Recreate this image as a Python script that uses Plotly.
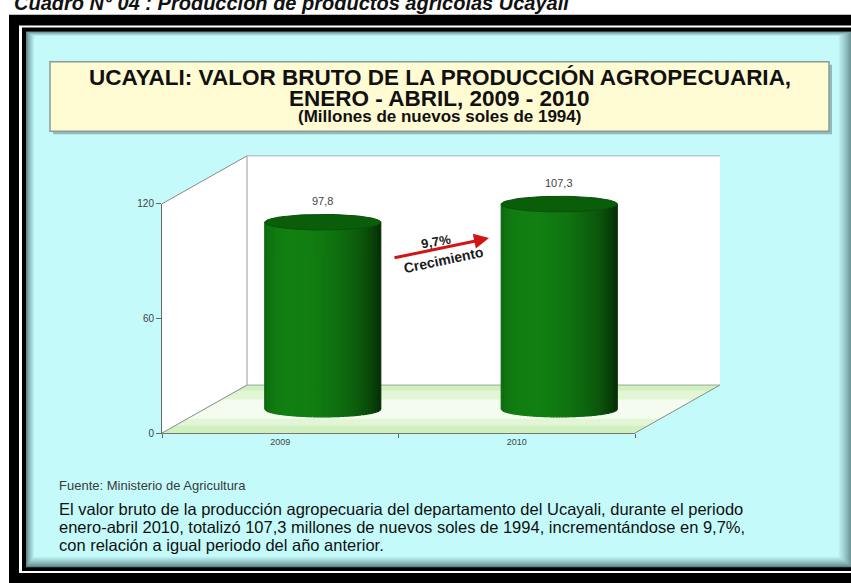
import numpy as np
import plotly.graph_objects as go

# ---------------- data ----------------
categories = ["2009", "2010"]
values = [97.8, 107.3]
y_tick_vals = [0, 60, 120]
caption = "Cuadro N° 04 : Producción de productos agrícolas Ucayali"
title_line1 = "UCAYALI: VALOR BRUTO DE LA PRODUCCIÓN AGROPECUARIA,"
title_line2 = "ENERO - ABRIL, 2009 - 2010"
title_line3 = "(Millones de nuevos soles de 1994)"
source_text = "Fuente: Ministerio de Agricultura"
body_lines = [
    "El valor bruto de la producción agropecuaria del departamento del Ucayali, durante el periodo",
    "enero-abril 2010, totalizó 107,3 millones de nuevos soles de 1994, incrementándose en 9,7%,",
    "con relación a igual periodo del año anterior.",
]
growth_label = "Crecimiento"

# ---------------- layout helpers ----------------
W, H = 851, 583
FONT = "Liberation Sans, Arial, sans-serif"


def X(p):
    return p / W


def Y(p):
    return 1 - p / H


# front plane (pixels)
FX0, FX1 = 162, 635
FY0, FY1 = 436, 202
YMAX = 120
PPU = (FY0 - FY1) / YMAX
DX, DY = 85, -49  # depth offset to back wall
MX, MY = DX / 2, DY / 2  # mid-depth plane where cylinders stand
Y2MIN = -12

shapes = []


def rect(x0, y0, x1, y1, fill, line=None, lw=0, layer="below"):
    shapes.append(dict(type="rect", xref="paper", yref="paper",
                       x0=X(x0), x1=X(x1), y0=Y(y1), y1=Y(y0),
                       fillcolor=fill, line=dict(color=line or fill, width=lw),
                       layer=layer))


def poly(pts, fill, line=None, lw=0, layer="below"):
    d = "M " + " L ".join(f"{X(a):.5f},{Y(b):.5f}" for a, b in pts) + " Z"
    shapes.append(dict(type="path", xref="paper", yref="paper", path=d,
                       fillcolor=fill, line=dict(color=line or fill, width=lw),
                       layer=layer))


def seg(p0, p1, color="#8a8a8a", lw=1):
    shapes.append(dict(type="line", xref="paper", yref="paper",
                       x0=X(p0[0]), y0=Y(p0[1]), x1=X(p1[0]), y1=Y(p1[1]),
                       line=dict(color=color, width=lw), layer="below"))


# frame
rect(9, 9, 870, 600, "#000000")
rect(19, 20, 870, 579, "#ffffff")
rect(22, 22, 870, 577, "#000000")
# panel with soft dark edges
c0 = np.array([70, 105, 108])
c1 = np.array([196, 250, 250])
N = 10
for k in range(N):
    t = (k + 1) / N
    c = c0 + (c1 - c0) * (t ** 0.7)
    rect(26 + k * 0.9, 26 + k * 0.5, 853 - k * 1.6, 573 - k * 1.2,
         "rgb(%d,%d,%d)" % tuple(c.astype(int)))

# title box
rect(53, 60, 832, 131, "rgba(90,110,110,0.45)")
rect(50, 57, 829, 128, "#FFFBD2", line="#8e9a96", lw=1.5)

# 3D frame: left wall, back wall, floor
poly([(FX0, FY1), (FX0 + DX, FY1 + DY), (FX0 + DX, FY0 + DY), (FX0, FY0)], "#ffffff")
rect(FX0 + DX, FY1 + DY, FX1 + DX, FY0 + DY, "#ffffff")
floor = [(FX0, FY0), (FX0 + DX, FY0 + DY), (FX1 + DX, FY0 + DY), (FX1, FY0)]
poly(floor, "#d0f0bf")
for f0, f1, col in [(0.12, 0.85, "#e2f6d5"), (0.3, 0.7, "#f3fcee")]:
    pts = [(FX0 + DX * (1 - f0), FY0 + DY * (1 - f0)), (FX1 + DX * (1 - f0), FY0 + DY * (1 - f0)),
           (FX1 + DX * (1 - f1), FY0 + DY * (1 - f1)), (FX0 + DX * (1 - f1), FY0 + DY * (1 - f1))]
    poly(pts, col)
seg((FX0, FY1), (FX0 + DX, FY1 + DY))
seg((FX0, FY0), (FX0 + DX, FY0 + DY))
seg((FX1, FY0), (FX1 + DX, FY0 + DY))
seg((FX0 + DX, FY1 + DY), (FX0 + DX, FY0 + DY), "#9a9a9a")
seg((FX0 + DX, FY1 + DY), (FX1 + DX, FY1 + DY), "#a8b0b0")
seg((FX0 + DX, FY0 + DY), (FX1 + DX, FY0 + DY), "#9aa89a")

fig = go.Figure()

# invisible trace to register category axis (front plane)
fig.add_trace(go.Scatter(x=categories, y=[0, 0], mode="markers",
                         marker=dict(opacity=0), hoverinfo="skip",
                         showlegend=False, xaxis="x", yaxis="y"))

# cylinders on the mid-depth plane (x2/y2)
A = 58 / ((FX1 - FX0) / 2)   # radius in category units
B = 8 / PPU                  # ellipse half height in value units
NS = 40
edges = np.linspace(-1, 1, NS + 1)
for j in range(NS):
    n0, n1 = edges[j], edges[j + 1]
    nm = (n0 + n1) / 2
    th = np.arcsin(nm)
    inten = 0.52 + 0.48 * np.cos(th + 0.5)
    base = np.array([18, 128, 18])
    col = "rgb(%d,%d,%d)" % tuple((base * inten).astype(int))
    xs, ys = [], []
    for i, v in enumerate(values):
        sub = np.linspace(n0, n1, 4)
        bx = [i + s * A for s in sub]
        by = [-B * np.sqrt(max(0.0, 1 - s * s)) for s in sub]
        xs += [bx[0], bx[0]] + [bx[-1], bx[-1]] + bx[::-1] + [None]
        ys += [by[0], v, v, by[-1]] + by[::-1] + [None]
    fig.add_trace(go.Scatter(x=xs, y=ys, mode="lines", fill="toself",
                             fillcolor=col, line=dict(width=1.2, color=col),
                             hoverinfo="skip", showlegend=False,
                             xaxis="x2", yaxis="y2"))

# top caps
tt = np.linspace(0, 2 * np.pi, 80)
cx, cy = [], []
for i, v in enumerate(values):
    cx += list(i + A * np.cos(tt)) + [None]
    cy += list(v + B * np.sin(tt)) + [None]
fig.add_trace(go.Scatter(x=cx, y=cy, mode="lines", fill="toself",
                         fillcolor="#0a5e0a", line=dict(width=1, color="#095209"),
                         hoverinfo="skip", showlegend=False,
                         xaxis="x2", yaxis="y2"))

annotations = []
# value labels
for i, v in enumerate(values):
    annotations.append(dict(x=i, y=v + B, xref="x2", yref="y2", xanchor="center",
                            yanchor="bottom", yshift=5, showarrow=False,
                            text=f"{v:.1f}".replace(".", ","),
                            font=dict(family=FONT, size=11, color="#444444")))

# growth arrow and labels
growth = (values[1] / values[0] - 1) * 100
annotations.append(dict(x=X(489), y=Y(237), xref="paper", yref="paper",
                        ax=-96, ay=20, showarrow=True, arrowhead=2, arrowsize=1,
                        arrowwidth=3, arrowcolor="#d41414", text=""))
annotations.append(dict(x=X(436), y=Y(240), xref="paper", yref="paper", showarrow=False,
                        xanchor="center", yanchor="middle",
                        text="<b>" + f"{growth:.1f}".replace(".", ",") + "%</b>", textangle=-10,
                        font=dict(family=FONT, size=13, color="#1a1a1a")))
annotations.append(dict(x=X(443), y=Y(259), xref="paper", yref="paper", showarrow=False,
                        xanchor="center", yanchor="middle",
                        text="<b>" + growth_label + "</b>", textangle=-12,
                        font=dict(family=FONT, size=14, color="#1a1a1a")))

# caption (cut at the top)
annotations.append(dict(x=X(12), y=Y(-3), xref="paper", yref="paper", xanchor="left",
                        yanchor="middle", showarrow=False,
                        text="<b><i>" + caption + "</i></b>",
                        font=dict(family=FONT, size=20, color="#111111")))

# title lines
for txt, yy, sz in [(title_line1, 73, 22.5), (title_line2, 94, 22.5), (title_line3, 112.5, 17)]:
    annotations.append(dict(x=X(440), y=Y(yy), xref="paper", yref="paper", showarrow=False,
                            xanchor="center", yanchor="middle",
                            text="<b>" + txt + "</b>",
                            font=dict(family=FONT, size=sz, color="#111111")))

# footer
annotations.append(dict(x=X(57), y=Y(490), xref="paper", yref="paper", xanchor="left",
                        yanchor="middle", showarrow=False, text=source_text,
                        font=dict(family=FONT, size=13, color="#3a3a3a")))
for k, line in enumerate(body_lines):
    annotations.append(dict(x=X(57), y=Y(514 + 18 * k), xref="paper", yref="paper",
                            xanchor="left", yanchor="middle", showarrow=False, text=line,
                            font=dict(family=FONT, size=16.5, color="#111111")))

fig.update_layout(
    width=W, height=H,
    margin=dict(l=0, r=0, t=0, b=0),
    paper_bgcolor="#ffffff",
    plot_bgcolor="rgba(0,0,0,0)",
    showlegend=False,
    shapes=shapes,
    annotations=annotations,
    xaxis=dict(domain=[X(FX0), X(FX1)], type="category", range=[-0.5, 1.5],
               anchor="y", tickson="boundaries", ticks="outside", ticklen=4,
               tickcolor="#666666", showline=True, linecolor="#777777", linewidth=1,
               showgrid=False, zeroline=False, fixedrange=True,
               tickfont=dict(family=FONT, size=9, color="#444444")),
    yaxis=dict(domain=[Y(FY0), Y(FY1)], range=[0, YMAX], anchor="x",
               tickvals=y_tick_vals, ticks="outside", ticklen=5, tickcolor="#666666",
               showline=True, linecolor="#666666", linewidth=1, showgrid=False,
               zeroline=False, fixedrange=True,
               tickfont=dict(family=FONT, size=10, color="#444444")),
    xaxis2=dict(domain=[X(FX0 + MX), X(FX1 + MX)], range=[-0.5, 1.5], anchor="y2",
                visible=False, fixedrange=True),
    yaxis2=dict(domain=[Y(FY0 + MY - Y2MIN * PPU), Y(FY1 + MY)], range=[Y2MIN, YMAX],
                anchor="x2", visible=False, fixedrange=True),
)

fig.write_html("out.html", config={"displayModeBar": False},
               post_script="document.body.style.margin='0';document.body.style.overflow='hidden';")
